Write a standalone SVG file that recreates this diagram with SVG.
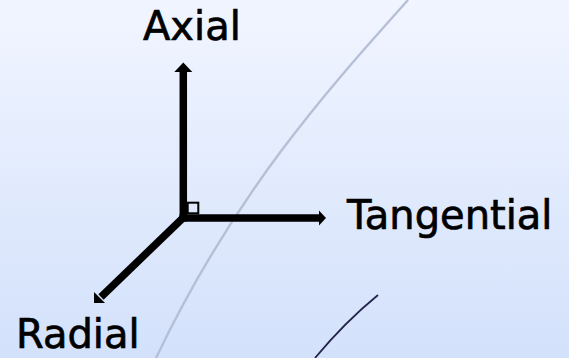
<svg xmlns="http://www.w3.org/2000/svg" width="569" height="358" viewBox="0 0 569 358">
<defs>
<linearGradient id="bg" x1="0" y1="0" x2="0" y2="1">
<stop offset="0" stop-color="#f1f5ff"/>
<stop offset="1" stop-color="#d3e1fb"/>
</linearGradient>
<style>
.ax{stroke:#000;stroke-width:7.5;fill:none;stroke-linecap:butt}
.hd{fill:#000;stroke:none}
.lbl{font-family:"DejaVu Sans","Verdana",sans-serif;font-size:40px;fill:#000;stroke:#000;stroke-width:0.7}
</style>
</defs>
<rect x="0" y="0" width="569" height="358" fill="url(#bg)"/>
<path d="M408,0 C332,85 236,190 156,358" fill="none" stroke="#b5bfd6" stroke-width="2.4"/>
<path d="M378,295 Q345,322 315,358" fill="none" stroke="#22244a" stroke-width="1.8"/>
<g id="connectors">
<line class="ax" x1="183.3" y1="221.5" x2="183.3" y2="71"/>
<polygon class="hd" points="183.3,62.5 174.3,72 192.3,72"/>
<line class="ax" x1="179.5" y1="218" x2="320" y2="218"/>
<polygon class="hd" points="326,218 319,210.5 319,225.5"/>
<line class="ax" x1="185.5" y1="215.5" x2="101" y2="297"/>
<polygon class="hd" points="94,303 94,292 105,303"/>
<rect x="187.7" y="202.7" width="10.6" height="10.6" fill="none" stroke="#000" stroke-width="2"/>
</g>
<g id="axial"><text class="lbl" x="143" y="40">Axial</text></g>
<g id="tangential"><text class="lbl" x="347" y="229">Tangential</text></g>
<g id="radial"><text class="lbl" x="16" y="348">Radial</text></g>
</svg>
